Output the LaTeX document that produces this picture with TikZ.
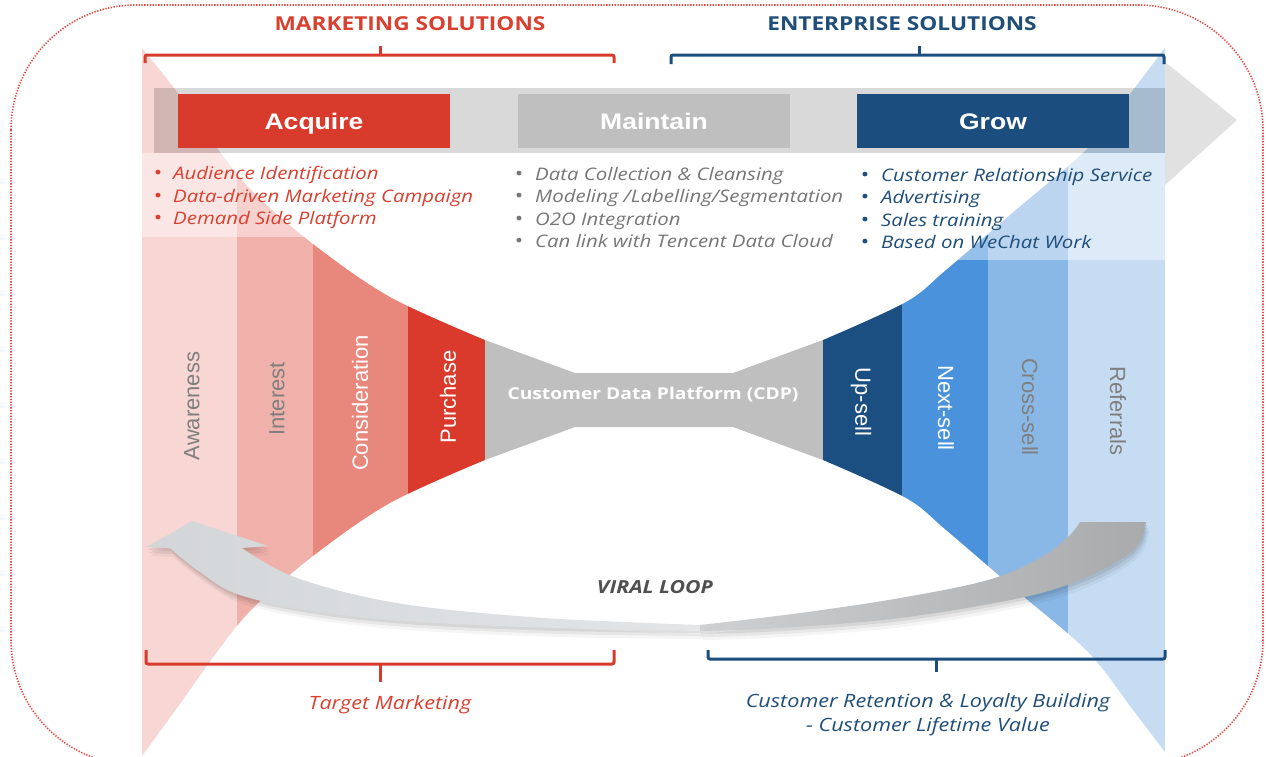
\documentclass[tikz,border=0pt]{standalone}
\usepackage{fontspec}
\setmainfont{Liberation Sans}
\newfontfamily\osans[FakeStretch=1.18]{Open Sans}
\newfontfamily\arialw[FakeStretch=1.18]{Liberation Sans}
\newfontfamily\arialn{Liberation Sans}
\definecolor{dotred}{HTML}{E8463E}
\definecolor{mred}{HTML}{D83B2B}
\definecolor{tred}{HTML}{D9402F}
\definecolor{mblue}{HTML}{1B4D7E}
\definecolor{tblue}{HTML}{1F4E79}
\definecolor{mgray}{HTML}{BFBFBF}
\definecolor{tgray}{HTML}{767676}
\definecolor{lblgray}{HTML}{7F7F7F}
\definecolor{cAware}{HTML}{F7D6D3}
\definecolor{cInter}{HTML}{F0B1AB}
\definecolor{cConsi}{HTML}{E8877C}
\definecolor{cPurch}{HTML}{D93A2B}
\definecolor{cUp}{HTML}{1B4E81}
\definecolor{cNext}{HTML}{4A93DC}
\definecolor{cCross}{HTML}{8AB8E6}
\definecolor{cRef}{HTML}{C5DCF3}
\definecolor{bandgray}{HTML}{D9D9D9}
\definecolor{headgray}{HTML}{E1E1E1}
\definecolor{loopLa}{HTML}{D3D6D9}
\definecolor{loopLb}{HTML}{E3E5E7}
\definecolor{loopRa}{HTML}{CFD0D2}
\definecolor{loopRb}{HTML}{A9AAAC}
\definecolor{looptxt}{HTML}{505050}
\tikzset{
  stagebox/.style={minimum width=272, minimum height=54, inner sep=0, text=white,
    text height=16, text depth=0,
    font=\arialw\bfseries\fontsize{22.5}{24}\selectfont},
  bullettext/.style={anchor=base west, inner sep=0, font=\osans\itshape\fontsize{17.3}{20}\selectfont},
  bulletdot/.style={anchor=base, inner sep=0, font=\osans\fontsize{19}{20}\selectfont},
  stagelbl/.style={inner sep=0, font=\arialn\fontsize{22}{24}\selectfont},
  header/.style={inner sep=0, font=\osans\bfseries\fontsize{19.2}{22}\selectfont},
  bottomtxt/.style={inner sep=0, font=\osans\itshape\fontsize{18.3}{22}\selectfont},
  bracketline/.style={line width=3, rounded corners=2},
}
\begin{document}
\begin{tikzpicture}[x=1pt,y=-1pt]
\useasboundingbox (0,0) rectangle (1266,756);
% outer dotted frame
\draw[dotred, line width=1.6, dash pattern=on 1.3 off 1.5, rounded corners=125] (11,5) rectangle (1263,765);

% left funnel strips
\begin{scope}
\clip plot[smooth,tension=0.55] coordinates {(142,48) (177,92) (217,148) (253,192) (313,244) (390,297) (485,340)}
  -- (485,460)
  -- plot[smooth,tension=0.55] coordinates {(485,460) (390,503) (313,556) (253,608) (217,652) (177,708) (142,756)}
  -- (142,770) -- cycle;
\fill[cAware] (142,0) rectangle (237,800);
\fill[cInter] (237,0) rectangle (313,800);
\fill[cConsi] (313,0) rectangle (408,800);
\fill[cPurch] (408,0) rectangle (485,800);
\end{scope}
% CDP neck
\fill[mgray] (485,340) -- (575,373) -- (733,373) -- (823,340) -- (823,460) -- (733,427) -- (575,427) -- (485,460) -- cycle;
% right funnel strips
\begin{scope}
\clip plot[smooth,tension=0.55] coordinates {(823,340) (906,302) (946,270) (1017,209) (1088,148) (1133,90) (1165,48)}
  -- (1165,752)
  -- plot[smooth,tension=0.55] coordinates {(1165,752) (1133,710) (1088,652) (1017,591) (946,530) (906,498) (823,460)}
  -- cycle;
\fill[cUp] (823,0) rectangle (902,800);
\fill[cNext] (902,0) rectangle (988,800);
\fill[cCross] (988,0) rectangle (1068,800);
\fill[cRef] (1068,0) rectangle (1165,800);
\end{scope}

% translucent text panels
\fill[white, opacity=0.42] (142,153) rectangle (500,237);
\fill[white, opacity=0.42] (850,153) rectangle (1165,260);

% gray process band with arrow head
\begin{scope}[blend mode=multiply]
\fill[bandgray] (154,88) rectangle (1165,153);
\end{scope}
\fill[headgray] (1165,62) -- (1237,120) -- (1165,185) -- cycle;

% stage boxes
\node[stagebox, fill=mred] (acq) at (314,121) {Acquire};
\node[stagebox, fill=mgray] (mnt) at (654,121) {Maintain};
\node[stagebox, fill=mblue] (grw) at (993,121) {Grow};

% bullet lists
\begin{scope}[text=tred]
\node[bulletdot] (b1d) at (158,179) {•}; \node[bullettext] (b1) at (173,179) {Audience Identification};
\node[bulletdot] (b2d) at (158,202) {•}; \node[bullettext] (b2) at (173,202) {Data-driven Marketing Campaign};
\node[bulletdot] (b3d) at (158,224) {•}; \node[bullettext] (b3) at (173,224) {Demand Side Platform};
\end{scope}
\begin{scope}[text=tgray]
\node[bulletdot] (c1d) at (519,180) {•}; \node[bullettext] (c1) at (535,180) {Data Collection \& Cleansing};
\node[bulletdot] (c2d) at (519,202) {•}; \node[bullettext] (c2) at (535,202) {Modeling /Labelling/Segmentation};
\node[bulletdot] (c3d) at (519,225) {•}; \node[bullettext] (c3) at (535,225) {O2O Integration};
\node[bulletdot] (c4d) at (519,247) {•}; \node[bullettext] (c4) at (535,247) {Can link with Tencent Data Cloud};
\end{scope}
\begin{scope}[text=tblue]
\node[bulletdot] (g1d) at (865,181) {•}; \node[bullettext] (g1) at (881,181) {Customer Relationship Service};
\node[bulletdot] (g2d) at (865,203) {•}; \node[bullettext] (g2) at (881,203) {Advertising};
\node[bulletdot] (g3d) at (865,226) {•}; \node[bullettext] (g3) at (881,226) {Sales training};
\node[bulletdot] (g4d) at (865,248) {•}; \node[bullettext] (g4) at (881,248) {Based on WeChat Work};
\end{scope}

% funnel stage labels
\node[stagelbl, rotate=90, text=lblgray] (aw) at (192,406) {Awareness};
\node[stagelbl, rotate=90, text=lblgray] (in) at (277,399) {Interest};
\node[stagelbl, rotate=90, text=white] (co) at (360,403) {Consideration};
\node[stagelbl, rotate=90, text=white] (pu) at (448,397) {Purchase};
\node[inner sep=0, text=white, font=\osans\bfseries\fontsize{16.3}{20}\selectfont] (cdp) at (653,395) {Customer Data Platform (CDP)};
\node[stagelbl, rotate=-90, text=white] (up) at (861,402) {Up-sell};
\node[stagelbl, rotate=-90, text=white] (nx) at (946,408) {Next-sell};
\node[stagelbl, rotate=-90, text=lblgray] (cr) at (1030,407) {Cross-sell};
\node[stagelbl, rotate=-90, text=lblgray] (rf) at (1118,411) {Referrals};

% viral loop arrow: soft shadow, then shapes
\foreach \dx/\dy/\op in {1/3/0.07, 2/6/0.06, 3/9/0.04} {
\fill[black, opacity=\op, shift={(\dx,\dy)}] (192,521) -- (268,546) -- (242,548)
  -- plot[smooth,tension=0.6] coordinates {(242,548) (297,578) (397,603) (530,617) (650,623) (700,625)}
  -- plot[smooth,tension=0.6] coordinates {(700,630) (560,628) (420,622) (320,612) (240,595) (200,572) (170,548)}
  -- (147,547) -- cycle;
\fill[black, opacity=\op, shift={(\dx,\dy)}] (1080,522) -- (1146,522)
  -- plot[smooth,tension=0.6] coordinates {(1146,522) (1140,542) (1120,560) (1080,580) (1020,598) (900,618) (780,628) (700,631)}
  -- plot[smooth,tension=0.6] coordinates {(700,625) (800,613) (900,598) (988,580) (1040,558) (1068,537) (1080,522)}
  -- cycle;
}
\shade[left color=loopLa, right color=loopLb] (192,521) -- (268,546) -- (242,548)
  -- plot[smooth,tension=0.6] coordinates {(242,548) (297,578) (397,603) (530,617) (650,623) (700,625)}
  -- plot[smooth,tension=0.6] coordinates {(700,630) (560,628) (420,622) (320,612) (240,595) (200,572) (170,548)}
  -- (147,547) -- cycle;
\shade[left color=loopRa, right color=loopRb] (1080,522) -- (1146,522)
  -- plot[smooth,tension=0.6] coordinates {(1146,522) (1140,542) (1120,560) (1080,580) (1020,598) (900,618) (780,628) (700,631)}
  -- plot[smooth,tension=0.6] coordinates {(700,625) (800,613) (900,598) (988,580) (1040,558) (1068,537) (1080,522)}
  -- cycle;
\node[inner sep=0, text=looptxt, font=\osans\bfseries\itshape\fontsize{18}{20}\selectfont] (vl) at (655,587) {VIRAL LOOP};

% brackets
\draw[mred, bracketline] (145,63) -- (145,55) -- (614,55) -- (614,63);
\draw[mred, line width=3] (380,55) -- (380,46);
\draw[mblue, bracketline] (671,64) -- (671,55) -- (1164,55) -- (1164,64);
\draw[mblue, line width=3] (919,55) -- (919,46);
\draw[mred, bracketline] (146,650) -- (146,664) -- (614,664) -- (614,650);
\draw[mred, line width=3] (380,664) -- (380,682);
\draw[mblue, bracketline] (708,650) -- (708,659) -- (1165,659) -- (1165,650);
\draw[mblue, line width=3] (936,659) -- (936,672);

% headers and footers
\node[header, text=tred] (hm) at (410,24) {MARKETING SOLUTIONS};
\node[header, text=tblue] (he) at (902,24) {ENTERPRISE SOLUTIONS};
\node[bottomtxt, text=tred] (tm) at (390,705) {Target Marketing};
\node[bottomtxt, text=tblue] (cr1) at (928,703) {Customer Retention \& Loyalty Building};
\node[bottomtxt, text=tblue] (cr2) at (928,727) {- Customer Lifetime Value};
\end{tikzpicture}
\end{document}
